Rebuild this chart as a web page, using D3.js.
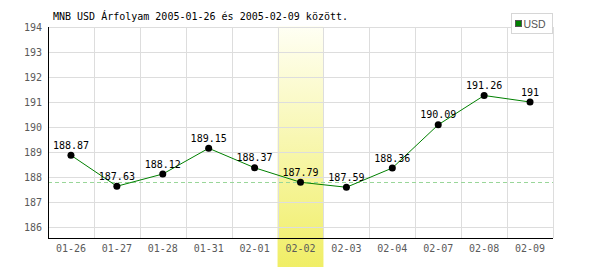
<!DOCTYPE html>
<html><head><meta charset="utf-8">
<script src="https://cdn.jsdelivr.net/npm/d3@7"></script>
<style>body{margin:0;background:#fff}svg{display:block}</style>
</head><body><svg id="c" width="600" height="270"></svg>
<script>
const categories = ["01-26","01-27","01-28","01-31","02-01","02-02","02-03","02-04","02-07","02-08","02-09"];
const values = [188.87,187.63,188.12,189.15,188.37,187.79,187.59,188.36,190.09,191.26,191];
const yTicks = [186,187,188,189,190,191,192,193,194];
const highlight = "02-02";
const refValue = 187.79;
const seriesName = "USD";
const title = "MNB USD Árfolyam 2005-01-26 és 2005-02-09 között.";

const svg = d3.select("#c");
const L = 48, R = 553, T = 27, B = 238;
const x = d3.scaleBand().domain(categories).range([L, R]).padding(0);
const y = d3.scaleLinear().domain([185.56, 194]).range([B, T]);
const mono = "'DejaVu Sans Mono', 'Liberation Mono', monospace";

const defs = svg.append("defs");
const g = defs.append("linearGradient").attr("id","hl").attr("x1",0).attr("y1",0).attr("x2",0).attr("y2",1);
g.append("stop").attr("offset","0%").attr("stop-color","#fffff4");
g.append("stop").attr("offset","100%").attr("stop-color","#f0ee66");

// highlight band
svg.append("rect").attr("x", x(highlight)).attr("y", T-1)
  .attr("width", x.bandwidth()).attr("height", 267 - (T-1)).attr("fill","url(#hl)");

// grid
svg.append("g").selectAll("line").data(yTicks).join("line")
  .attr("x1", L).attr("x2", R).attr("y1", d=>Math.round(y(d))+0.5).attr("y2", d=>Math.round(y(d))+0.5)
  .attr("stroke","#dddddd");
svg.append("g").selectAll("line").data(categories).join("line")
  .attr("x1", d=>Math.round(x(d)+x.bandwidth())+0.5).attr("x2", d=>Math.round(x(d)+x.bandwidth())+0.5)
  .attr("y1", T).attr("y2", B).attr("stroke","#dddddd");

// reference dashed line
svg.append("line").attr("x1", L).attr("x2", R)
  .attr("y1", Math.round(y(refValue))+0.5).attr("y2", Math.round(y(refValue))+0.5)
  .attr("stroke","#99d699").attr("stroke-dasharray","4,3");

// axes
const ya = svg.append("g").attr("transform",`translate(${L},0)`)
  .call(d3.axisLeft(y).tickValues(yTicks).tickSize(0).tickPadding(6).tickFormat(d3.format("d")));
ya.select(".domain").remove();
ya.selectAll("text").attr("font-family", mono).attr("font-size", 10).attr("fill","#5a5a5a");
const xa = svg.append("g").attr("transform",`translate(0,${B})`)
  .call(d3.axisBottom(x).tickSize(0).tickPadding(7));
xa.select(".domain").remove();
xa.selectAll("text").attr("font-family", mono).attr("font-size", 10).attr("fill","#5a5a5a");

svg.append("line").attr("x1", L+0.5).attr("x2", L+0.5).attr("y1", T).attr("y2", B+1).attr("stroke","#000");
svg.append("line").attr("x1", L).attr("x2", R).attr("y1", B+0.5).attr("y2", B+0.5).attr("stroke","#000");

// series line
const line = d3.line().x((d,i)=>x(categories[i])+x.bandwidth()/2).y(d=>y(d));
svg.append("path").datum(values).attr("d", line).attr("fill","none").attr("stroke","#008000").attr("stroke-width",1);

svg.append("g").selectAll("circle").data(values).join("circle")
  .attr("cx",(d,i)=>x(categories[i])+x.bandwidth()/2).attr("cy", d=>y(d)).attr("r",3.5).attr("fill","#000");

svg.append("g").selectAll("text").data(values).join("text")
  .attr("x",(d,i)=>x(categories[i])+x.bandwidth()/2).attr("y", d=>y(d)-6.5)
  .attr("text-anchor","middle").attr("font-family", mono).attr("font-size", 10).attr("fill","#000")
  .text(d=>String(d));

// title
svg.append("text").attr("x", 53).attr("y", 20).attr("font-family", mono).attr("font-size", 10)
  .attr("fill","#000").text(title);

// legend
svg.append("rect").attr("x", 511.5).attr("y", 13.5).attr("width", 41).attr("height", 20)
  .attr("fill","#fff").attr("stroke","#d6d6d6");
svg.append("rect").attr("x", 515.5).attr("y", 20.5).attr("width", 6).attr("height", 6)
  .attr("fill","#008000").attr("stroke","#555");
svg.append("text").attr("x", 523.5).attr("y", 27.5).attr("font-family","'Liberation Sans Narrow', 'Liberation Sans', Arial, sans-serif")
  .attr("font-size", 10.5).attr("fill","#555").text(seriesName);
</script></body></html>
